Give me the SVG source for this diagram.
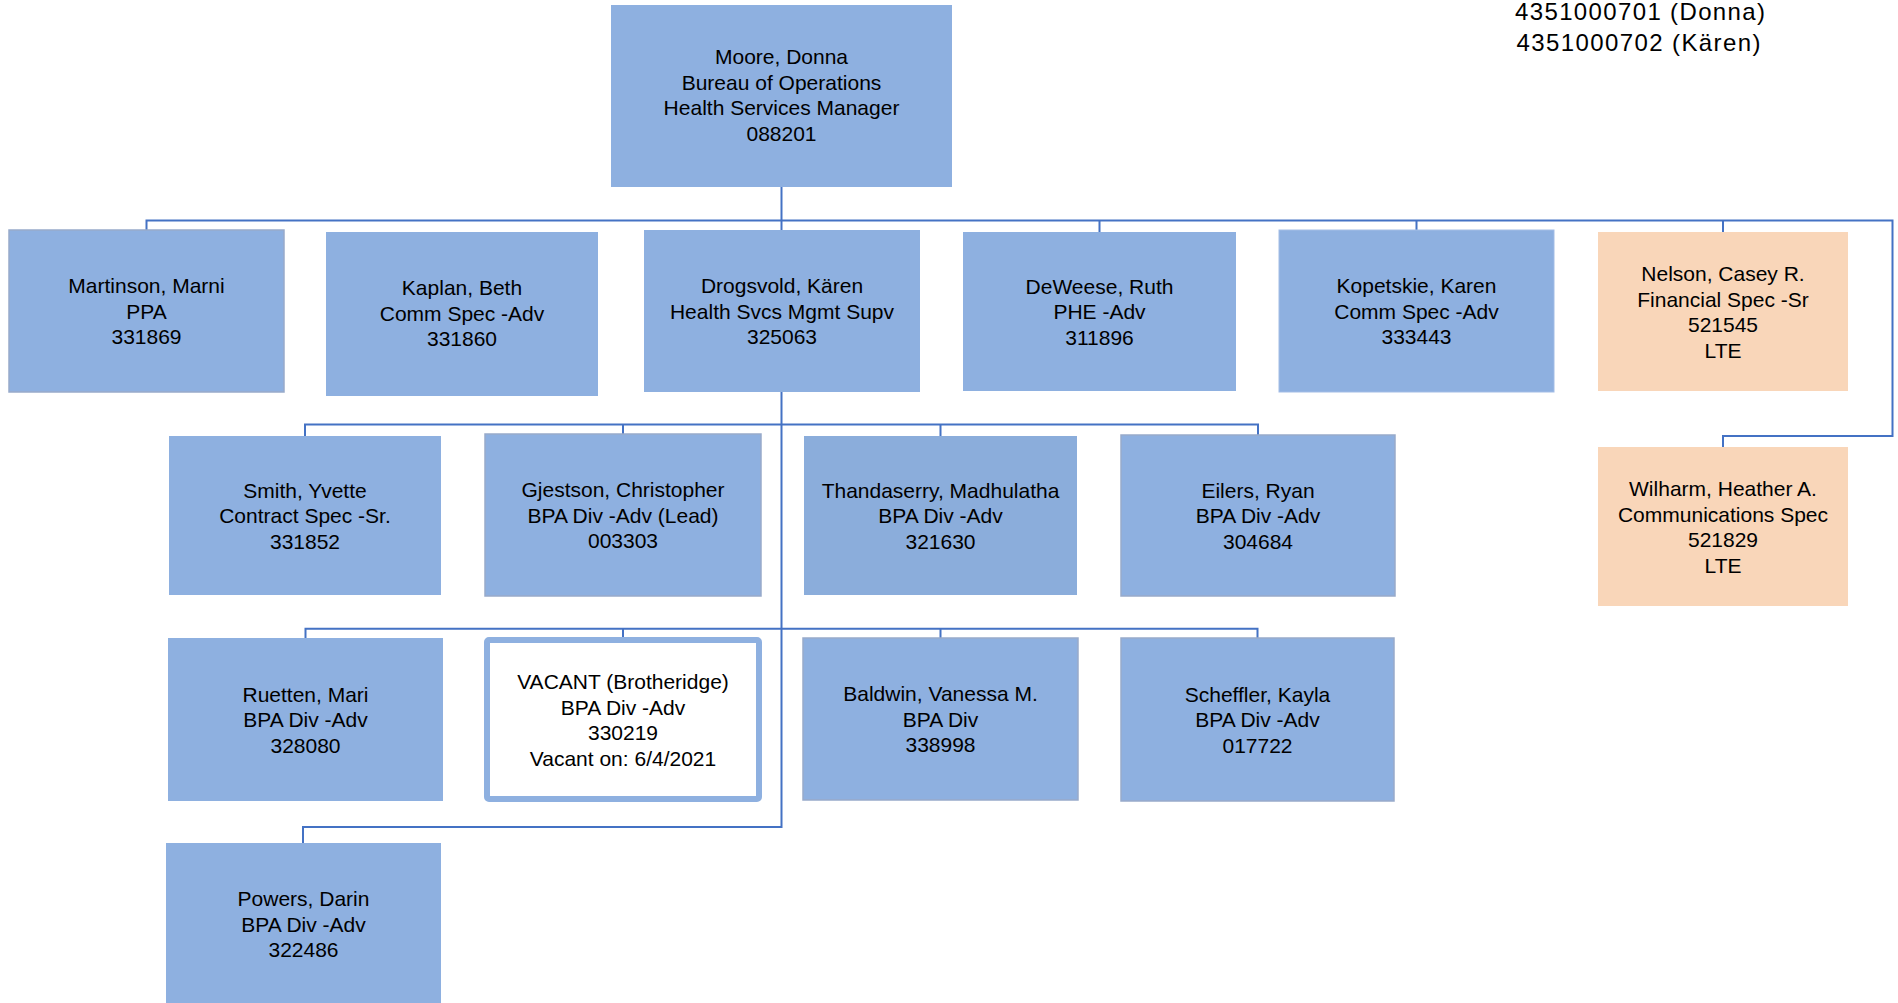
<svg xmlns="http://www.w3.org/2000/svg" width="1898" height="1003" viewBox="0 0 1898 1003">
<style>
.bx{fill:#8EB0E0}
.gb{stroke:#98AACA;stroke-width:1.5}
.pe{fill:#F9D6B9}
.vac{fill:#FFFFFF;stroke:#8EB0E0;stroke-width:6}
.cn{fill:none;stroke:#4472C4;stroke-width:2}
text{font-family:"Liberation Sans",Arial,sans-serif;font-size:21px;fill:#000;text-anchor:middle}
.lbl{font-size:24px}
</style>
<rect width="1898" height="1003" fill="#FFFFFF"/>
<g id="connectors">
<path class="cn" d="M781.5 187V230"/>
<path class="cn" d="M146.5 230V220.5H1892.5V436H1723V447"/>
<path class="cn" d="M1099.5 220.5V232M1416.5 220.5V230M1723 220.5V232"/>
<path class="cn" d="M781.5 392V827H303V843"/>
<path class="cn" d="M305 436V424.5H1258V435M623 424.5V434M940.5 424.5V436"/>
<path class="cn" d="M305.5 638V628.7H1257.5V638M623 628.7V637M940.5 628.7V638"/>
</g>
<g id="label-top">
<text class="lbl" x="1640" y="19.5" textLength="250" lengthAdjust="spacing">4351000701 (Donna)</text>
<text class="lbl" x="1638.5" y="51" textLength="244" lengthAdjust="spacing">4351000702 (Kären)</text>
</g>
<g id="moore">
<rect class="bx" x="611" y="5" width="341" height="182"/>
<text><tspan x="781.5" y="64">Moore, Donna</tspan><tspan x="781.5" y="89.5">Bureau of Operations</tspan><tspan x="781.5" y="115">Health Services Manager</tspan><tspan x="781.5" y="140.5">088201</tspan></text>
</g>
<g id="martinson">
<rect class="bx gb" x="9" y="230" width="275" height="162"/>
<text><tspan x="146.5" y="293">Martinson, Marni</tspan><tspan x="146.5" y="318.5">PPA</tspan><tspan x="146.5" y="344">331869</tspan></text>
</g>
<g id="kaplan">
<rect class="bx" x="326" y="232" width="272" height="164"/>
<text><tspan x="462" y="295">Kaplan, Beth</tspan><tspan x="462" y="320.5">Comm Spec -Adv</tspan><tspan x="462" y="346">331860</tspan></text>
</g>
<g id="drogsvold">
<rect class="bx" x="644" y="230" width="276" height="162"/>
<text><tspan x="782" y="293">Drogsvold, Kären</tspan><tspan x="782" y="318.5">Health Svcs Mgmt Supv</tspan><tspan x="782" y="344">325063</tspan></text>
</g>
<g id="deweese">
<rect class="bx" x="963" y="232" width="273" height="159"/>
<text><tspan x="1099.5" y="293.5">DeWeese, Ruth</tspan><tspan x="1099.5" y="319">PHE -Adv</tspan><tspan x="1099.5" y="344.5">311896</tspan></text>
</g>
<g id="kopetskie">
<rect class="bx" x="1279" y="230" width="275" height="162" stroke="#A3BDE6" stroke-width="1"/>
<text><tspan x="1416.5" y="293">Kopetskie, Karen</tspan><tspan x="1416.5" y="318.5">Comm Spec -Adv</tspan><tspan x="1416.5" y="344">333443</tspan></text>
</g>
<g id="nelson">
<rect class="pe" x="1598" y="232" width="250" height="159"/>
<text><tspan x="1723" y="281">Nelson, Casey R.</tspan><tspan x="1723" y="306.5">Financial Spec -Sr</tspan><tspan x="1723" y="332">521545</tspan><tspan x="1723" y="357.5">LTE</tspan></text>
</g>
<g id="wilharm">
<rect class="pe" x="1598" y="447" width="250" height="159"/>
<text><tspan x="1723" y="496">Wilharm, Heather A.</tspan><tspan x="1723" y="521.5">Communications Spec</tspan><tspan x="1723" y="547">521829</tspan><tspan x="1723" y="572.5">LTE</tspan></text>
</g>
<g id="smith">
<rect class="bx" x="169" y="436" width="272" height="159"/>
<text><tspan x="305" y="497.5">Smith, Yvette</tspan><tspan x="305" y="523">Contract Spec -Sr.</tspan><tspan x="305" y="548.5">331852</tspan></text>
</g>
<g id="gjestson">
<rect class="bx gb" x="485" y="434" width="276" height="162"/>
<text><tspan x="623" y="497">Gjestson, Christopher</tspan><tspan x="623" y="522.5">BPA Div -Adv (Lead)</tspan><tspan x="623" y="548">003303</tspan></text>
</g>
<g id="thandaserry">
<rect x="804" y="436" width="273" height="159" fill="#8BADDB"/>
<text><tspan x="940.5" y="497.5">Thandaserry, Madhulatha</tspan><tspan x="940.5" y="523">BPA Div -Adv</tspan><tspan x="940.5" y="548.5">321630</tspan></text>
</g>
<g id="eilers">
<rect class="bx gb" x="1121" y="435" width="274" height="161"/>
<text><tspan x="1258" y="497.5">Eilers, Ryan</tspan><tspan x="1258" y="523">BPA Div -Adv</tspan><tspan x="1258" y="548.5">304684</tspan></text>
</g>
<g id="ruetten">
<rect class="bx" x="168" y="638" width="275" height="163"/>
<text><tspan x="305.5" y="701.5">Ruetten, Mari</tspan><tspan x="305.5" y="727">BPA Div -Adv</tspan><tspan x="305.5" y="752.5">328080</tspan></text>
</g>
<g id="vacant">
<rect class="vac" x="487" y="640" width="272" height="159" rx="2"/>
<text><tspan x="623" y="689">VACANT (Brotheridge)</tspan><tspan x="623" y="714.5">BPA Div -Adv</tspan><tspan x="623" y="740">330219</tspan><tspan x="623" y="765.5">Vacant on: 6/4/2021</tspan></text>
</g>
<g id="baldwin">
<rect class="bx gb" x="803" y="638" width="275" height="162"/>
<text><tspan x="940.5" y="701">Baldwin, Vanessa M.</tspan><tspan x="940.5" y="726.5">BPA Div</tspan><tspan x="940.5" y="752">338998</tspan></text>
</g>
<g id="scheffler">
<rect class="bx gb" x="1121" y="638" width="273" height="163"/>
<text><tspan x="1257.5" y="701.5">Scheffler, Kayla</tspan><tspan x="1257.5" y="727">BPA Div -Adv</tspan><tspan x="1257.5" y="752.5">017722</tspan></text>
</g>
<g id="powers">
<rect class="bx" x="166" y="843" width="275" height="161"/>
<text><tspan x="303.5" y="906">Powers, Darin</tspan><tspan x="303.5" y="931.5">BPA Div -Adv</tspan><tspan x="303.5" y="957">322486</tspan></text>
</g>
</svg>
